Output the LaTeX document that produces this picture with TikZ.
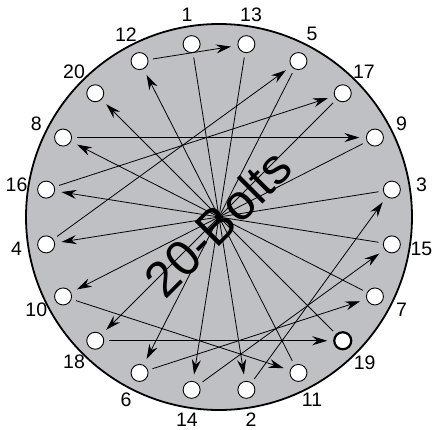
\documentclass[tikz,border=0pt]{standalone}
\usepackage{fontspec}
\setmainfont{Liberation Sans}
\usepackage{xcolor}
\usetikzlibrary{arrows.meta}

\definecolor{plate}{RGB}{191,192,195}

\begin{document}
\begin{tikzpicture}[
        x=1pt, y=1pt,
        font=\fontsize{19.5}{19.5}\selectfont,
        flow/.style={-{Stealth[length=15pt, width=9pt, inset=5pt]}, line width=0.8pt,
            shorten <=5pt, shorten >=7pt},
        hole/.style={circle, draw, fill=white, line width=0.9pt,
            minimum size=17pt, inner sep=0pt, outer sep=0pt},
        boltno/.style={inner sep=0pt}
    ]
        \useasboundingbox (-219,-212) rectangle (219,217);

        % Flange plate.
        \draw[fill=plate, line width=1.8pt] (0,0) circle (193);
        \node[rotate=45, font=\fontsize{50}{50}\selectfont, inner sep=0pt]
            (title) at (-1,-6) {20-Bolts};

        % Bolt holes and their numbers, every 18 degrees.
        \foreach \ang/\n in {99/1, 81/13, 63/5, 45/17, 27/9, 9/3, -9/15,
                -27/7, -63/11, -81/2, -99/14, -117/6, -135/18, -153/10,
                -171/4, 171/16, 153/8, 135/20, 117/12} {
            \node[hole] (h\n) at (\ang:175) {};
            \node[boltno] (l\n) at (\ang:205) {\n};
        }
        % Last bolt of the sequence is drawn heavier.
        \node[hole, line width=2.2pt] (h19) at (-45:175) {};
        \node[boltno] (l19) at (-45:206) {19};

        % Tightening order 1 -> 2 -> ... -> 20.
        \foreach \i [evaluate=\i as \j using int(\i+1)] in {1,...,19}
            \draw[flow] (h\i) -- (h\j);
    \end{tikzpicture}
\end{document}
